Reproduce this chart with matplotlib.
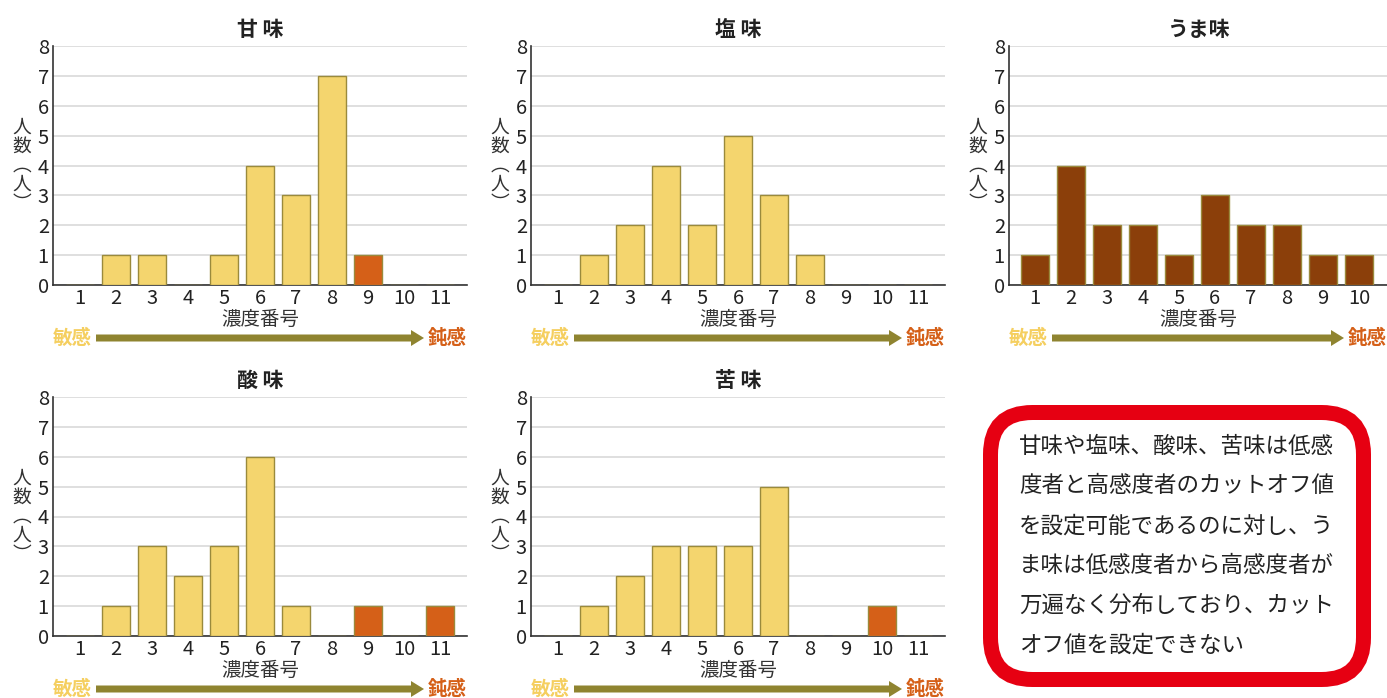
import matplotlib
matplotlib.use("Agg")
import matplotlib.pyplot as plt
from matplotlib.patches import FancyBboxPatch, FancyArrow

plt.rcParams['font.family'] = ['Noto Sans CJK JP', 'DejaVu Sans']

W, H = 1387, 698

# counts per concentration number
sweet = [0, 1, 1, 0, 1, 4, 3, 7, 1, 0, 0]
salty = [0, 1, 2, 4, 2, 5, 3, 1, 0, 0, 0]
umami = [1, 4, 2, 2, 1, 3, 2, 2, 1, 1]
sour = [0, 1, 3, 2, 3, 6, 1, 0, 1, 0, 1]
bitter = [0, 1, 2, 3, 3, 3, 5, 0, 0, 1, 0]

# concentration numbers treated as insensitive (drawn orange)
sweet_dull = [9]
salty_dull = []
sour_dull = [9, 11]
bitter_dull = [10]

titles = ["甘 味", "塩 味", "うま味", "酸 味", "苦 味"]
note_lines = [
    "甘味や塩味、酸味、苦味は低感",
    "度者と高感度者のカットオフ値",
    "を設定可能であるのに対し、う",
    "ま味は低感度者から高感度者が",
    "万遍なく分布しており、カット",
    "オフ値を設定できない",
]

YELLOW = "#f4d56e"
ORANGE = "#d56018"
BROWN = "#8b3f0a"
EDGE = "#9a8a3c"
OLIVE = "#8f8430"
RED = "#e60012"

fig = plt.figure(figsize=(W / 100, H / 100), dpi=100)

# overlay in pixel coordinates for arrows, labels and the note box
ov = fig.add_axes([0, 0, 1, 1])
ov.set_xlim(0, W)
ov.set_ylim(H, 0)
ov.axis("off")
ov.set_zorder(-1)


def px_axes(x0, x1, y0, y1):
    return fig.add_axes([x0 / W, 1 - y1 / H, (x1 - x0) / W, (y1 - y0) / H])


def panel(x0, x1, y0, y1, values, title, dull=(), base=YELLOW, xpad=(0.75, 0.75)):
    ax = px_axes(x0, x1, y0, y1)
    n = len(values)
    xs = list(range(1, n + 1))
    colors = [ORANGE if x in dull else base for x in xs]
    ax.bar(xs, values, width=0.78, color=colors, edgecolor=EDGE, linewidth=1.0, zorder=3)
    ax.set_xlim(1 - xpad[0], n + xpad[1])
    ax.set_ylim(0, 8)
    ax.set_yticks(range(0, 9))
    ax.set_xticks(xs)
    ax.grid(axis="y", color="#d9d9d9", linewidth=1.2, zorder=0)
    for s in ("top", "right"):
        ax.spines[s].set_visible(False)
    for s in ("left", "bottom"):
        ax.spines[s].set_color("#333333")
        ax.spines[s].set_linewidth(1.2)
    ax.tick_params(length=0, labelsize=14.5, colors="#222222", pad=2)
    ax.tick_params(axis="y", pad=3)
    ax.set_xlabel("濃度番号", fontsize=14, color="#333333", labelpad=0)
    ax.set_title(title, fontsize=15, fontweight="bold", color="#222222", pad=7)

    # vertical y label
    ov.text(x0 - 31, (y0 + y1) / 2, "人\n数\n︵\n人\n︶", fontsize=13.5, color="#333333",
            ha="center", va="center", linespacing=0.88)

    # sensitivity arrow under the axis
    ya = y1 + 53
    ov.text(x0, ya, "敏感", fontsize=14, fontweight="bold", color="#f5cf60",
            ha="left", va="center")
    ov.text(x1, ya, "鈍感", fontsize=14, fontweight="bold", color=ORANGE,
            ha="right", va="center")
    ov.add_patch(FancyArrow(x0 + 43, ya, (x1 - x0) - 86, 0, width=7, head_width=16,
                            head_length=13, length_includes_head=True,
                            color=OLIVE, lw=0))
    return ax


panel(53, 467, 46, 285, sweet, titles[0], sweet_dull)
panel(531, 945, 46, 285, salty, titles[1], salty_dull)
panel(1009, 1387, 46, 285, umami, titles[2], (), base=BROWN, xpad=(0.72, 0.78))
panel(53, 467, 397, 636, sour, titles[3], sour_dull)
panel(531, 945, 397, 636, bitter, titles[4], bitter_dull)

# note box
ov.add_patch(FancyBboxPatch((990.5, 412.5), 373, 267,
                            boxstyle="round,pad=0,rounding_size=42",
                            facecolor="white", edgecolor=RED, linewidth=10.8))
for i, line in enumerate(note_lines):
    ov.text(1019, 446 + i * 39.8, line, fontsize=16.2, color="#222222",
            ha="left", va="center")

fig.savefig("out.png", dpi=100)
